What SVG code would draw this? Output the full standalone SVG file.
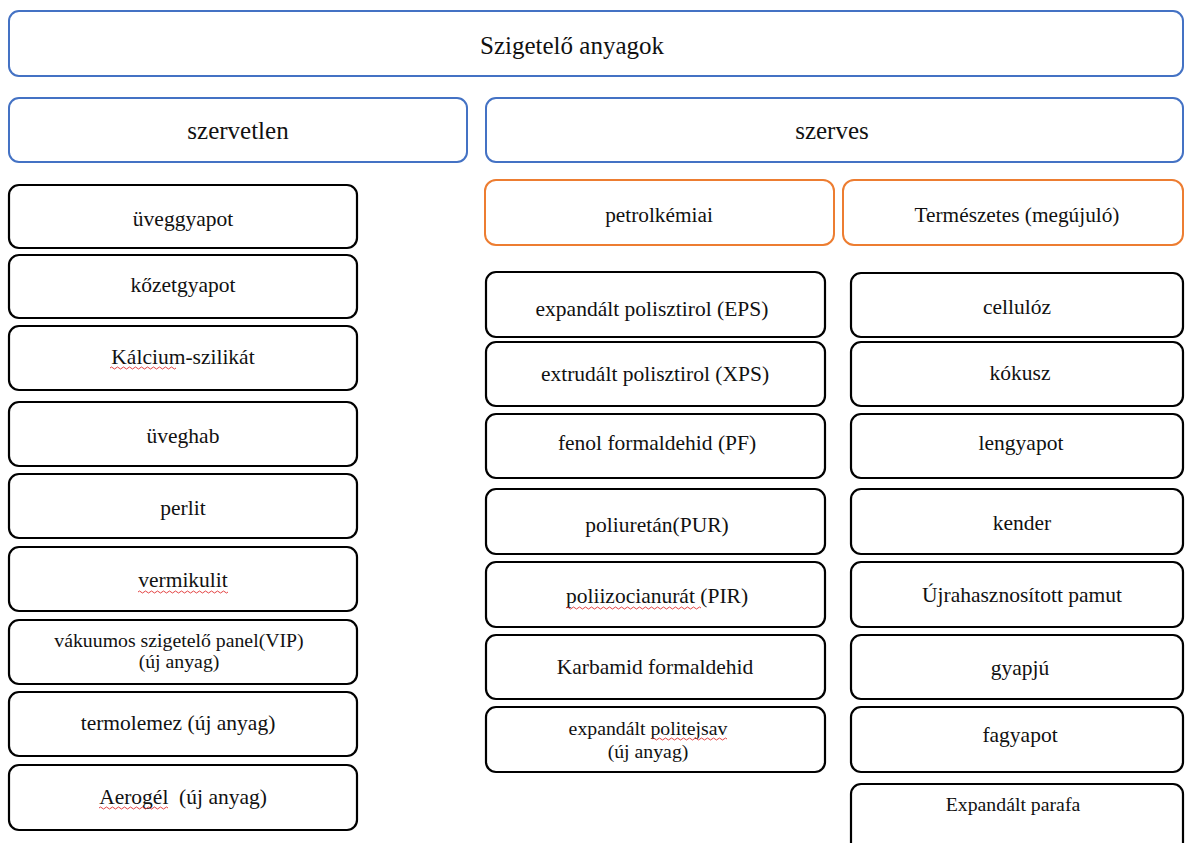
<svg xmlns="http://www.w3.org/2000/svg" width="1185" height="843" viewBox="0 0 1185 843">
<style>
  .blue{fill:#fff;stroke:#4472C4;stroke-width:2}
  .orange{fill:#fff;stroke:#ED7D31;stroke-width:2}
  .blk{fill:#fff;stroke:#000;stroke-width:2.2}
  text{font-family:'Liberation Serif','DejaVu Serif',serif;fill:#111;text-anchor:middle;font-size:21.5px}
  .h1{font-size:25px}
  .h2{font-size:21.3px}
  .sm{font-size:19.8px}
  .sp{fill:none;stroke:#E03030;stroke-width:0.9}
</style>
<rect width="1185" height="843" fill="#fff"/>
<g id="connectors"/>
<g id="root"><rect class="blue" x="9" y="11" width="1174" height="65" rx="10"/><text class="h1" x="572" y="54">Szigetelő anyagok</text></g>
<g id="szervetlen"><rect class="blue" x="9" y="98" width="458" height="64" rx="10"/><text class="h1" x="238" y="139">szervetlen</text></g>
<g id="szerves"><rect class="blue" x="486" y="98" width="697" height="64" rx="10"/><text class="h1" x="832" y="139">szerves</text></g>
<g id="petrolkemiai"><rect class="orange" x="485" y="180" width="349" height="65" rx="11"/><text class="h2" x="659" y="222">petrolkémiai</text></g>
<g id="termeszetes"><rect class="orange" x="843" y="180" width="340" height="65" rx="11"/><text class="h2" x="1017" y="222">Természetes (megújuló)</text></g>

<g id="uveggyapot"><rect class="blk" x="9" y="185" width="348" height="63" rx="10"/><text x="183" y="226">üveggyapot</text></g>
<g id="kozetgyapot"><rect class="blk" x="9" y="255" width="348" height="63" rx="10"/><text x="183" y="292">kőzetgyapot</text></g>
<g id="kalcium"><rect class="blk" x="9" y="326" width="348" height="64" rx="10"/><text x="183" y="364">Kálcium-szilikát</text><path class="sp" d="M110 368 q1.5 -2 3 0 t3 0 t3 0 t3 0 t3 0 t3 0 t3 0 t3 0 t3 0 t3 0 t3 0 t3 0 t3 0 t3 0 t3 0 t3 0 t3 0 t3 0 t3 0 t3 0 t3 0 t3 0"/></g>
<g id="uveghab"><rect class="blk" x="9" y="402" width="348" height="64" rx="10"/><text x="183" y="443">üveghab</text></g>
<g id="perlit"><rect class="blk" x="9" y="474" width="348" height="64" rx="10"/><text x="183" y="515">perlit</text></g>
<g id="vermikulit"><rect class="blk" x="9" y="547" width="348" height="64" rx="10"/><text x="183" y="587">vermikulit</text><path class="sp" d="M138 592 q1.5 -2 3 0 t3 0 t3 0 t3 0 t3 0 t3 0 t3 0 t3 0 t3 0 t3 0 t3 0 t3 0 t3 0 t3 0 t3 0 t3 0 t3 0 t3 0 t3 0 t3 0 t3 0 t3 0 t3 0 t3 0 t3 0 t3 0 t3 0 t3 0 t3 0 t3 0"/></g>
<g id="vip"><rect class="blk" x="9" y="620" width="348" height="64" rx="10"/><text class="sm" x="179" y="647">vákuumos szigetelő panel(VIP)</text><text class="sm" x="179" y="668">(új anyag)</text></g>
<g id="termolemez"><rect class="blk" x="9" y="692" width="348" height="64" rx="10"/><text x="178" y="730">termolemez (új anyag)</text></g>
<g id="aerogel"><rect class="blk" x="9" y="765" width="348" height="65" rx="10"/><text x="183" y="804" xml:space="preserve">Aerogél  (új anyag)</text><path class="sp" d="M99 808 q1.5 -2 3 0 t3 0 t3 0 t3 0 t3 0 t3 0 t3 0 t3 0 t3 0 t3 0 t3 0 t3 0 t3 0 t3 0 t3 0 t3 0 t3 0 t3 0 t3 0 t3 0 t3 0 t3 0 t3 0"/></g>

<g id="eps"><rect class="blk" x="486" y="272" width="339" height="65" rx="10"/><text x="652" y="316">expandált polisztirol (EPS)</text></g>
<g id="xps"><rect class="blk" x="486" y="342" width="339" height="64" rx="10"/><text x="655" y="381">extrudált polisztirol (XPS)</text></g>
<g id="pf"><rect class="blk" x="486" y="414" width="339" height="64" rx="10"/><text x="657" y="450">fenol formaldehid (PF)</text></g>
<g id="pur"><rect class="blk" x="486" y="489" width="339" height="65" rx="10"/><text x="657" y="532">poliuretán(PUR)</text></g>
<g id="pir"><rect class="blk" x="486" y="562" width="339" height="65" rx="10"/><text x="657" y="603">poliizocianurát (PIR)</text><path class="sp" d="M566 608 q1.5 -2 3 0 t3 0 t3 0 t3 0 t3 0 t3 0 t3 0 t3 0 t3 0 t3 0 t3 0 t3 0 t3 0 t3 0 t3 0 t3 0 t3 0 t3 0 t3 0 t3 0 t3 0 t3 0 t3 0 t3 0 t3 0 t3 0 t3 0 t3 0 t3 0 t3 0 t3 0 t3 0 t3 0 t3 0 t3 0 t3 0 t3 0 t3 0 t3 0 t3 0 t3 0 t3 0 t3 0 t3 0 t3 0"/></g>
<g id="karbamid"><rect class="blk" x="486" y="635" width="339" height="64" rx="10"/><text x="655" y="674">Karbamid formaldehid</text></g>
<g id="pla"><rect class="blk" x="486" y="707" width="339" height="65" rx="10"/><text class="sm" x="648" y="735">expandált politejsav</text><text class="sm" x="648" y="758">(új anyag)</text><path class="sp" d="M652 739 q1.5 -2 3 0 t3 0 t3 0 t3 0 t3 0 t3 0 t3 0 t3 0 t3 0 t3 0 t3 0 t3 0 t3 0 t3 0 t3 0 t3 0 t3 0 t3 0 t3 0 t3 0 t3 0 t3 0 t3 0 t3 0 t3 0"/></g>

<g id="celluloz"><rect class="blk" x="851" y="273" width="332" height="64" rx="10"/><text x="1017" y="314">cellulóz</text></g>
<g id="kokusz"><rect class="blk" x="851" y="342" width="332" height="64" rx="10"/><text x="1020" y="380">kókusz</text></g>
<g id="lengyapot"><rect class="blk" x="851" y="414" width="332" height="64" rx="10"/><text x="1021" y="450">lengyapot</text></g>
<g id="kender"><rect class="blk" x="851" y="489" width="332" height="65" rx="10"/><text x="1022" y="530">kender</text></g>
<g id="pamut"><rect class="blk" x="851" y="562" width="332" height="65" rx="10"/><text x="1022" y="602">Újrahasznosított pamut</text></g>
<g id="gyapju"><rect class="blk" x="851" y="635" width="332" height="64" rx="10"/><text x="1020" y="675">gyapjú</text></g>
<g id="fagyapot"><rect class="blk" x="851" y="707" width="332" height="65" rx="10"/><text x="1020" y="742">fagyapot</text></g>
<g id="parafa"><rect class="blk" x="851" y="784" width="332" height="80" rx="10"/><text class="sm" x="1013" y="811">Expandált parafa</text></g>
</svg>
